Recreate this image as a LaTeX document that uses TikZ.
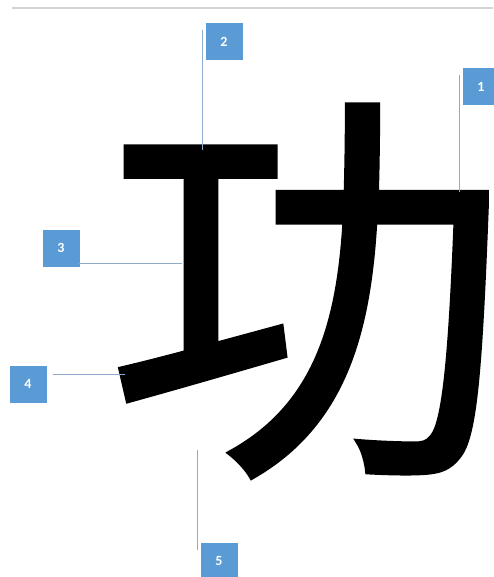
\documentclass[tikz,border=0pt]{standalone}
\usepackage{fontspec}
\setmainfont{Carlito}
\newfontfamily\cjk[FakeBold=1.2]{Noto Sans CJK SC}
\definecolor{boxblue}{HTML}{5B9BD5}
\definecolor{lineblue}{HTML}{8FAACC}
\definecolor{rulegray}{HTML}{D4D4D4}
\tikzset{
  numbox/.style={fill=boxblue, draw=none, minimum width=37pt, minimum height=37pt, inner sep=0pt,
    text=white, font=\fontsize{14}{14}\selectfont\bfseries},
  callout/.style={draw=lineblue, line width=1pt},
}
\begin{document}
\begin{tikzpicture}[x=1pt,y=-1pt]
\useasboundingbox (0,0) rectangle (493,577);
\draw[rulegray, line width=2pt] (12,8) -- (493,8);
% glyph
\node[inner sep=0pt, anchor=center, xscale=0.965, yscale=0.98, font=\cjk\fontsize{420}{420}\selectfont] (glyph) at (308,291) {功};
% boxes
\node[numbox] (b1) at (481,87) {1};
\node[numbox] (b2) at (224,42) {2};
\node[numbox] (b3) at (61,248) {3};
\node[numbox] (b4) at (28,384) {4};
\node[numbox] (b5) at (219,561) {5};
% endpoints
\coordinate (s1) at (459,75);  \coordinate (e1) at (459,192);
\coordinate (s2) at (202,30);  \coordinate (e2) at (202,150);
\coordinate (s3) at (79,263);  \coordinate (e3) at (182,263);
\coordinate (s4) at (53,374);  \coordinate (e4) at (125,374);
\coordinate (s5) at (197,450); \coordinate (e5) at (197,550);
\draw[callout] (s1) -- (e1);
\draw[callout] (s2) -- (e2);
\draw[callout] (s3) -- (e3);
\draw[callout] (s4) -- (e4);
\draw[callout] (s5) -- (e5);
\end{tikzpicture}
\end{document}
